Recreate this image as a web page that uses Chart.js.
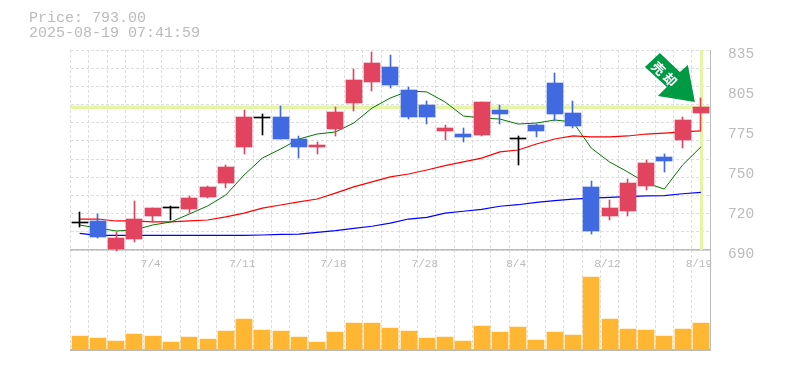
<!DOCTYPE html>
<html>
<head>
<meta charset="utf-8">
<script src="https://cdn.jsdelivr.net/npm/chart.js@4"></script>
<style>
html,body{margin:0;padding:0;background:#fff;width:785px;height:370px;overflow:hidden}
#hdr{position:absolute;left:29px;top:11px;font:15px/15px "Liberation Mono",monospace;color:#bbb;white-space:pre}
#pw{position:absolute;left:0;top:0;width:785px;height:275px}
#vw{position:absolute;left:0;top:250px;width:785px;height:102px}
</style>
</head>
<body>
<div id="vw"><canvas id="v"></canvas></div>
<div id="pw"><canvas id="p"></canvas></div>
<div id="hdr">Price: 793.00
2025-08-19 07:41:59</div>
<script>
const dates = ['6/30','7/1','7/2','7/3','7/4','7/7','7/8','7/9','7/10','7/11','7/14','7/15','7/16','7/17','7/18','7/22','7/23','7/24','7/25','7/28','7/29','7/30','7/31','8/1','8/4','8/5','8/6','8/7','8/8','8/12','8/13','8/14','8/15','8/18','8/19'];
const openP  = [709.2,710.9,690.7,697.9,714.5,720.2,719.5,728.2,738.2,764.4,785,785.8,769.9,764.2,777.1,795.8,811,821.8,805.2,794.4,775.7,773.5,772.8,790.8,769.9,780,810.2,788.6,735.4,714.5,718.1,736.1,757,769.2,788.6];
const closeP = [709.2,699.4,698.6,712.3,720.2,720.2,727.4,735.4,749.8,785.8,785,769.9,764.2,765.6,789.4,812.4,824.6,808.8,785.8,785.8,777.8,771.4,796.6,787.9,769.9,775.7,787.9,779.3,703.7,720.2,738.2,752.6,754.1,783.6,793];
const highP  = [717.4,715.9,703,725.3,720.2,721.7,728.9,736.1,751.2,790.8,787.9,793.7,772.1,767.8,793,820.3,832.6,830.4,807.4,797.3,780,777.8,796.6,794.4,772.1,780.7,817.4,797.3,739.7,726,741.1,754.8,759.1,785.8,799.4];
const lowP   = [706.8,699,689.5,695.8,710.2,711.6,716.6,727.4,734.6,759.1,772.8,769.9,756.2,759.1,772.1,790.1,804.5,806.6,784.3,780.7,769.2,767.8,772.1,780.7,751.2,771.4,782.9,777.8,701.5,711.6,714.5,733.2,746.2,763.4,775.7];
const maShort = [708,705.8,703.7,704.4,708,710.2,715.9,721.7,729.6,744,756.2,762.7,769.9,773.5,775,781.4,792.2,799.4,804.5,803.8,796.6,786.5,785,784.3,780.7,781.4,783.6,782.2,763.4,753.4,746.2,738.2,733.9,751.2,764.2];
const maMid   = [712.3,712.3,710.9,710.9,710.2,710.2,710.9,711.6,713.8,716.6,720.2,722.4,724.6,726.7,731,735.4,739,742.6,744.7,747.6,750.7,753.4,756.2,760.6,762,766.3,769.9,772.1,771.4,771.4,772.1,773.5,774.2,775,775.7];
const maLong  = [702,700.6,700.6,700.6,700.6,700.6,700.6,700.6,700.6,700.6,700.8,701.2,701.5,702.7,703.9,705.6,707.1,709.4,712.3,713.5,716.6,717.9,719.3,721.5,722.6,724.3,725.5,726.7,727.4,727.9,728.4,728.9,729.1,730.5,731.5];
const volume  = [123,103,73,143,123,63,113,93,173,293,183,173,113,63,163,253,253,203,173,103,113,73,223,163,213,83,163,133,713,293,193,183,123,193,253];
const priceTickLabels = ['690','720','750','775','805','835'];
const lastPrice = 793;
const signalText = ['売','却'];

const UP='#e2435f', DOWN='#4169e1', FLAT='#000000';
const candleColor = openP.map((o,i)=> closeP[i]>o ? UP : closeP[i]<o ? DOWN : FLAT);
const GRID='#dddddd', AXIS='#bbbbbb', MONO='"Liberation Mono",monospace';

const snap = {id:'snap', afterDatasetsUpdate(c){
  c.data.datasets.forEach((d,i)=>{
    if(d.type!=='bar')return;
    c.getDatasetMeta(i).data.forEach(el=>{
      const odd = Math.round(el.width)%2===1;
      el.x = Math.round(el.x-(odd?.5:0))+(odd?.5:0);
      el.y = Math.round(el.y); el.base = Math.round(el.base);
      el.height = el.base-el.y;
    });
  });
}};
const marks = {id:'marks',
  beforeDatasetsDraw(c){
    const {ctx,chartArea:a,scales:s}=c;
    const x=Math.round(s.x.getPixelForValue(dates.length-1)), y=Math.round(s.y.getPixelForValue(lastPrice));
    ctx.save(); ctx.fillStyle='#e4f6a6';
    ctx.fillRect(a.left,y-1.5,a.right-a.left,3.5);
    ctx.fillRect(x-1,a.top,3,a.bottom-a.top);
    ctx.restore();
  },
  afterDatasetsDraw(c){
    const {ctx,scales:s}=c;
    const x=s.x.getPixelForValue(dates.length-1)-6, y=s.y.getPixelForValue(lastPrice)-5;
    const pts=[[-35,-49],[-15,-30],[-7,-37],[0,0],[-37,-6],[-28,-15],[-50,-35]];
    ctx.save(); ctx.fillStyle='#009944'; ctx.beginPath();
    pts.forEach((p,i)=> i?ctx.lineTo(x+p[0],y+p[1]):ctx.moveTo(x+p[0],y+p[1]));
    ctx.closePath(); ctx.fill();
    ctx.translate(x-30.5,y-28); ctx.rotate(Math.PI/4);
    ctx.fillStyle='#fff'; ctx.font='bold 13px "Noto Sans CJK JP"'; ctx.textAlign='center'; ctx.textBaseline='middle';
    ctx.fillText(signalText[0],-8,0); ctx.fillText(signalText[1],8,0);
    ctx.restore();
  }
};
const xGrid = {display:true, offset:true, color:GRID, drawTicks:false};
function fitW(s){s.width=75;}

new Chart(document.getElementById('p'),{
  type:'bar',
  plugins:[snap,marks],
  data:{labels:dates,datasets:[
    {type:'line',data:maShort,borderColor:'#007700',borderWidth:1,pointRadius:0,tension:0,order:3,yAxisID:'y'},
    {type:'line',data:maMid,borderColor:'#ff0000',borderWidth:1.2,pointRadius:0,tension:0,order:3,yAxisID:'y'},
    {type:'line',data:maLong,borderColor:'#0000ff',borderWidth:1.2,pointRadius:0,tension:0,order:3,yAxisID:'y'},
    {type:'bar',data:dates.map((_,i)=>[lowP[i],highP[i]]),backgroundColor:candleColor,barThickness:1,grouped:false,order:2,yAxisID:'y',clip:false},
    {type:'bar',data:dates.map((_,i)=>[openP[i],closeP[i]]),backgroundColor:candleColor,barThickness:16,minBarLength:1,grouped:false,order:1,yAxisID:'y',clip:false}
  ]},
  options:{
    responsive:true,maintainAspectRatio:false,animation:false,
    layout:{padding:{top:50,left:70.5,right:0,bottom:0}},
    plugins:{legend:{display:false},tooltip:{enabled:false}},
    scales:{
      x:{offset:true,grid:{...xGrid},border:{color:AXIS,width:1.5,dash:[3,2]},
         ticks:{autoSkip:false,maxRotation:0,minRotation:0,padding:7,labelOffset:-2,color:AXIS,font:{family:MONO,size:11},
                callback(v,i){return i%5===4?dates[i]:'';}},
         afterFit(s){s.height=25;}},
      y:{position:'right',min:690,max:834,afterFit:fitW,
         afterBuildTicks(s){s.ticks=priceTickLabels.map((_,i)=>({value:690+28.8*i}));},
         grid:{display:false},border:{color:AXIS,width:1},
         ticks:{padding:10,labelOffset:4,color:AXIS,font:{family:MONO,size:14.5},
                callback(v,i){return priceTickLabels[i];}}},
      g:{position:'left',min:0,max:11,afterBuildTicks(s){s.ticks=Array.from({length:12},(_,i)=>({value:i}));},
         ticks:{display:false},grid:{color:GRID,drawTicks:false},border:{display:false,dash:[3,2]},afterFit(s){s.width=0;}}
    }
  }
});

new Chart(document.getElementById('v'),{
  type:'bar',
  plugins:[snap],
  data:{labels:dates,datasets:[{type:'bar',data:volume,backgroundColor:'#ffb733',barThickness:16}]},
  options:{
    responsive:true,maintainAspectRatio:false,animation:false,
    layout:{padding:{top:0,left:70.5,right:0,bottom:2}},
    plugins:{legend:{display:false},tooltip:{enabled:false}},
    scales:{
      x:{offset:true,grid:xGrid,border:{color:AXIS,width:2,dash:[3,2]},ticks:{display:false},afterFit(s){s.height=0;}},
      y:{position:'right',min:-15,max:985,afterFit:fitW,grid:{display:false},border:{color:AXIS,width:1},ticks:{display:false}}
    }
  }
});
</script>
</body>
</html>
